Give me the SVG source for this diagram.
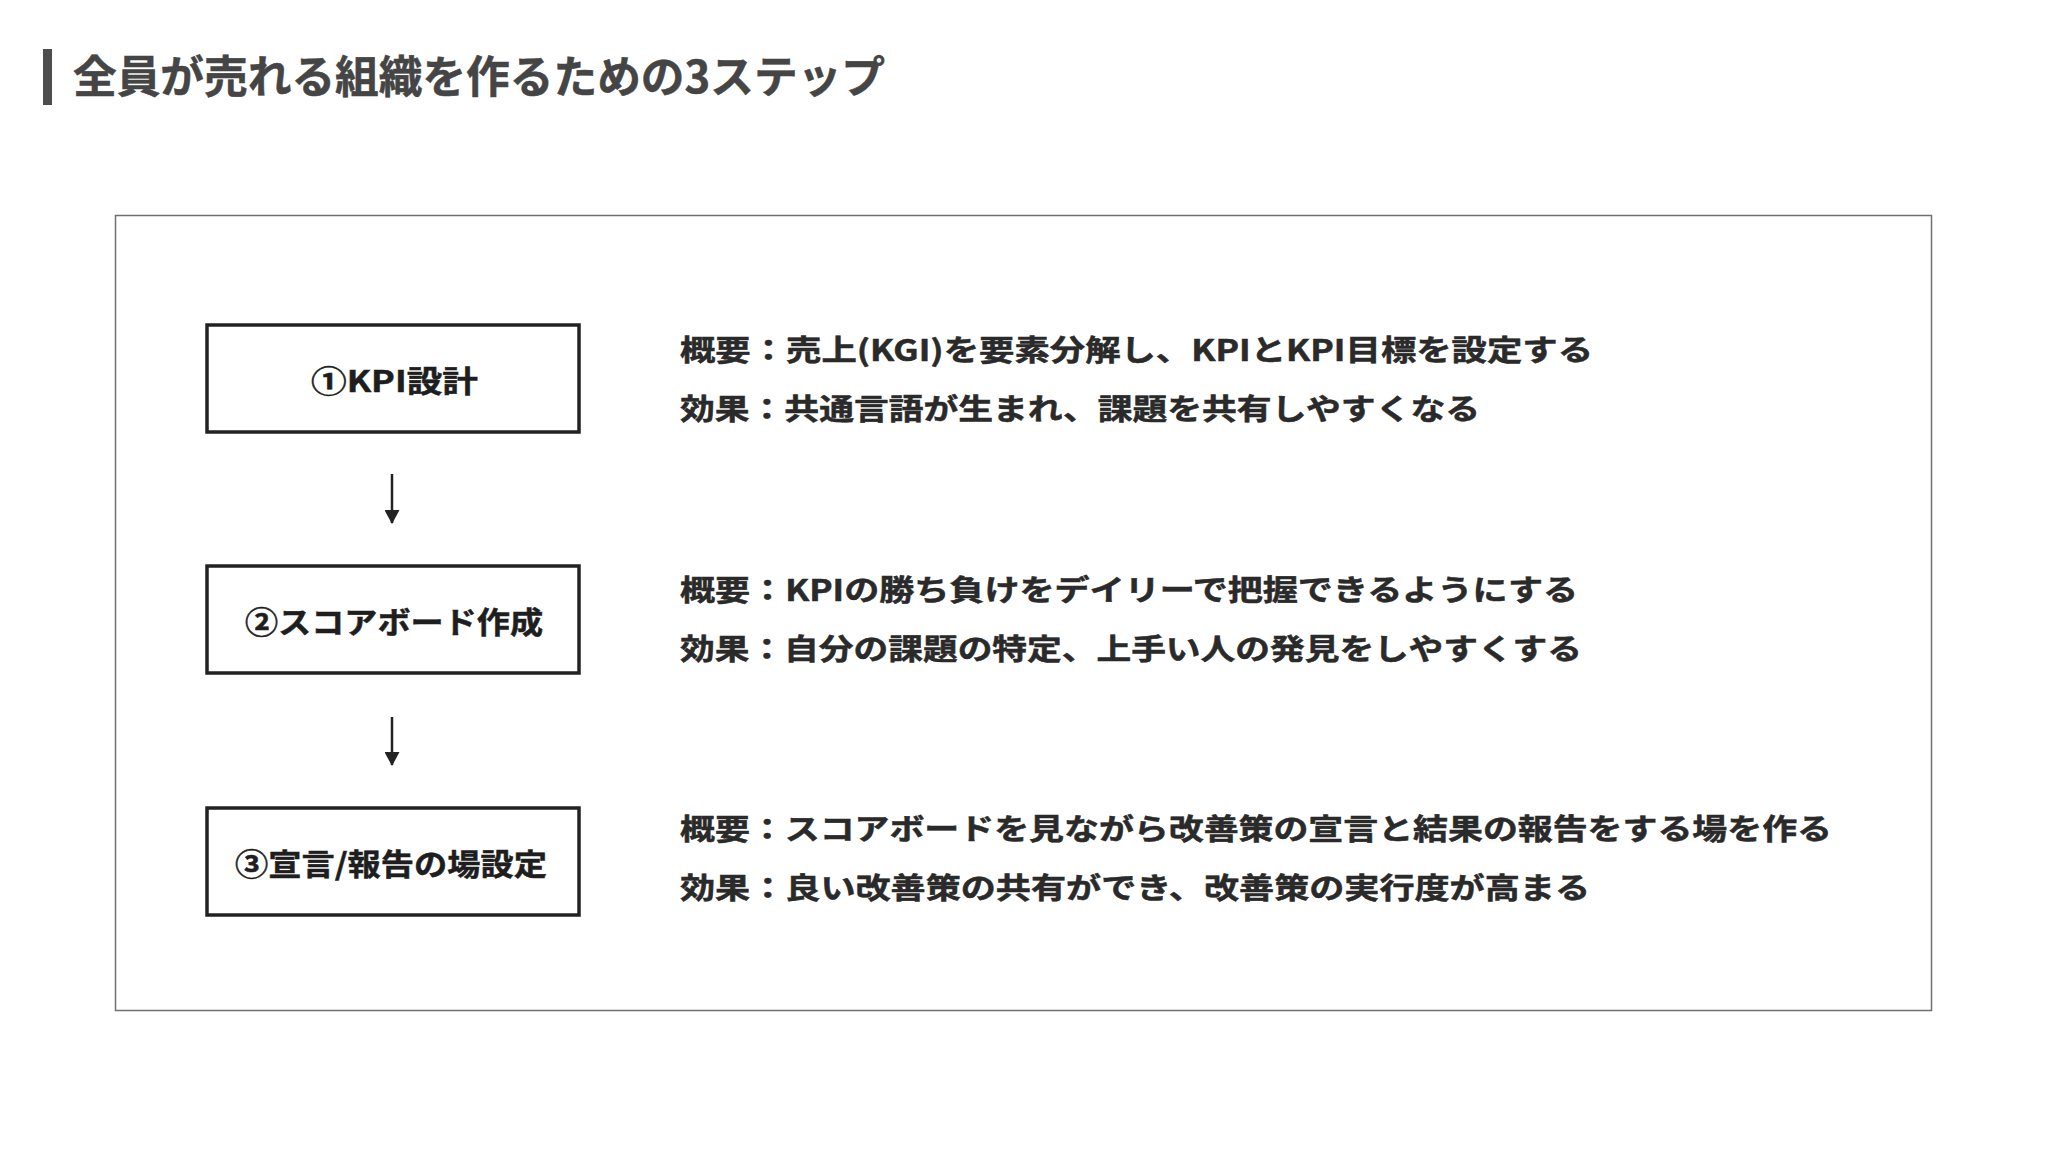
<svg xmlns="http://www.w3.org/2000/svg" width="2048" height="1151" viewBox="0 0 2048 1151">
<style>
text{font-family:"Noto Sans CJK JP","Noto Sans",sans-serif;font-weight:700}
.title{font-size:44px;fill:#454545;stroke:#454545;stroke-width:0.5}
.node rect{fill:#fff;stroke:#222;stroke-width:3.5}
.node text{font-size:30px;fill:#1e1e1e;stroke:#1e1e1e;stroke-width:0.5}
.desc{font-size:29px;fill:#2a2a2a;stroke:#2a2a2a;stroke-width:0.5}
.edge{stroke:#222;stroke-width:2.5;fill:none}
</style>
<defs>
<marker id="ah" viewBox="0 0 14 15" refX="13" refY="7.5" markerWidth="14" markerHeight="15" markerUnits="userSpaceOnUse" orient="auto">
<path d="M0,0 L14,7.5 L0,15 Z" fill="#222"/>
</marker>
</defs>
<rect width="2048" height="1151" fill="#fff"/>
<g id="title">
<rect x="43" y="49" width="9" height="56" fill="#4d4d4d"/>
<text class="title" x="73" y="93" textLength="812" lengthAdjust="spacingAndGlyphs">全員が売れる組織を作るための3ステップ</text>
</g>
<g id="frame">
<rect x="115.5" y="215.5" width="1816" height="795" fill="none" stroke="#707070" stroke-width="1.5"/>
</g>
<g id="connectors">
<path class="edge" d="M392,474 V523" marker-end="url(#ah)"/>
<path class="edge" d="M392,717 V765" marker-end="url(#ah)"/>
</g>
<g id="node1" class="node">
<rect x="207" y="325" width="372" height="107"/>
<text x="311" y="392" textLength="167" lengthAdjust="spacingAndGlyphs">①KPI設計</text>
</g>
<g id="node2" class="node">
<rect x="207" y="566" width="372" height="107"/>
<text x="245" y="633" textLength="298" lengthAdjust="spacingAndGlyphs">②スコアボード作成</text>
</g>
<g id="node3" class="node">
<rect x="207" y="808" width="372" height="107"/>
<text x="235" y="875" textLength="312" lengthAdjust="spacingAndGlyphs">③宣言/報告の場設定</text>
</g>
<g id="desc1">
<text class="desc" x="680" y="361" textLength="913" lengthAdjust="spacingAndGlyphs">概要：売上(KGI)を要素分解し、KPIとKPI目標を設定する</text>
<text class="desc" x="680" y="420" textLength="800" lengthAdjust="spacingAndGlyphs">効果：共通言語が生まれ、課題を共有しやすくなる</text>
</g>
<g id="desc2">
<text class="desc" x="680" y="601" textLength="898" lengthAdjust="spacingAndGlyphs">概要：KPIの勝ち負けをデイリーで把握できるようにする</text>
<text class="desc" x="680" y="660" textLength="902" lengthAdjust="spacingAndGlyphs">効果：自分の課題の特定、上手い人の発見をしやすくする</text>
</g>
<g id="desc3">
<text class="desc" x="680" y="840" textLength="1152" lengthAdjust="spacingAndGlyphs">概要：スコアボードを見ながら改善策の宣言と結果の報告をする場を作る</text>
<text class="desc" x="680" y="899" textLength="910" lengthAdjust="spacingAndGlyphs">効果：良い改善策の共有ができ、改善策の実行度が高まる</text>
</g>
</svg>
